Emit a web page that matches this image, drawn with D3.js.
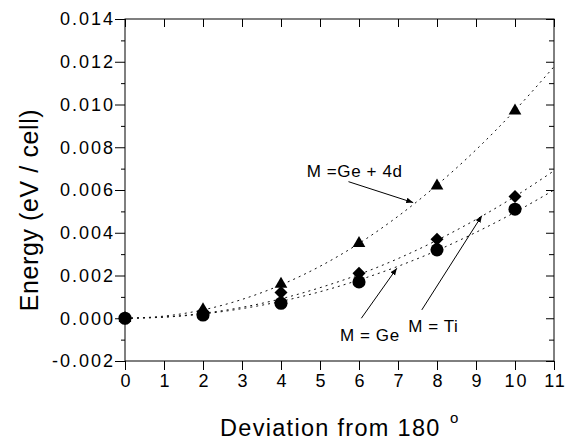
<!DOCTYPE html>
<html>
<head>
<meta charset="utf-8">
<script src="https://d3js.org/d3.v7.min.js"></script>
<style>
body { margin: 0; background: #fff; font-family: 'Liberation Sans', Arial, sans-serif; }
svg { display: block; }
svg text { font-family: 'Liberation Sans', Arial, sans-serif; }
</style>
</head>
<body>
<svg width="569" height="441"></svg>
<script>
// computed points (deviation in degrees, energy in eV/cell)
var angles = [0, 2, 4, 6, 8, 10];
var energyGe4d = [0, 0.0004, 0.0016, 0.0035, 0.0062, 0.0097];
var energyTi = [0, 0.0003, 0.0012, 0.0021, 0.0037, 0.0057];
var energyGe = [0, 0.00015, 0.0007, 0.0017, 0.0032, 0.0051];

// fitted curves at each degree
var fitAngles = [0, 1, 2, 3, 4, 5, 6, 7, 8, 9, 10, 11];
var fitGe4d = [0, 0.0001, 0.00039, 0.00088, 0.00156, 0.00243, 0.0035, 0.00477, 0.00623, 0.00788, 0.00973, 0.01177];
var fitTi = [0, 0.00006, 0.00023, 0.00051, 0.00091, 0.00143, 0.00205, 0.00279, 0.00365, 0.00462, 0.0057, 0.0069];
var fitGe = [0, 0.00005, 0.0002, 0.00045, 0.00079, 0.00124, 0.00179, 0.00243, 0.00317, 0.00402, 0.00496, 0.006];

var xTicks = [0, 1, 2, 3, 4, 5, 6, 7, 8, 9, 10, 11];
var yTicks = [-0.002, 0, 0.002, 0.004, 0.006, 0.008, 0.010, 0.012, 0.014];
var yMinor = [-0.001, 0.001, 0.003, 0.005, 0.007, 0.009, 0.011, 0.013];

// annotation text and arrows, in data units
var notes = [
  {label: "M =Ge + 4d", tx: 4.66, ty: 0.00662, x1: 5.73, y1: 0.00639, x2: 7.39, y2: 0.00541},
  {label: "M = Ge", tx: 5.51, ty: -0.00105, x1: 6.06, y1: 0.0, x2: 6.97, y2: 0.00234},
  {label: "M = Ti", tx: 7.26, ty: -0.00063, x1: 7.61, y1: 0.00039, x2: 9.15, y2: 0.0048}
];

var svg = d3.select("svg");

var x = d3.scaleLinear().domain([0, 11]).range([125, 554]);
var y = d3.scaleLinear().domain([-0.002, 0.014]).range([361, 19]);

svg.append("defs").append("marker")
  .attr("id", "head")
  .attr("viewBox", "0 0 10 10")
  .attr("refX", 10).attr("refY", 5)
  .attr("markerWidth", 7).attr("markerHeight", 7)
  .attr("markerUnits", "userSpaceOnUse")
  .attr("orient", "auto")
  .append("path").attr("d", "M0,1 L10,5 L0,9 Z").attr("fill", "#000");

// frame
svg.append("rect")
  .attr("x", x(0)).attr("y", y(0.014))
  .attr("width", x(11) - x(0)).attr("height", y(-0.002) - y(0.014))
  .attr("fill", "none").attr("stroke", "#000").attr("stroke-width", 1);

var fmt = function(d) { return d.toFixed(3); };

function styleAxis(g) {
  g.attr("font-family", null);
  g.select(".domain").remove();
  g.selectAll("line").attr("stroke", "#000");
  g.selectAll("text").attr("fill", "#000")
    .style("font-size", "18px").style("letter-spacing", "2px");
}

var gLeft = svg.append("g").attr("transform", "translate(" + x(0) + ",0)")
  .call(d3.axisLeft(y).tickValues(yTicks).tickFormat(fmt).tickSize(10).tickPadding(2))
  .call(styleAxis);
gLeft.selectAll("text").attr("dx", 2);

svg.append("g").attr("transform", "translate(" + x(0) + ",0)")
  .call(d3.axisLeft(y).tickValues(yMinor).tickFormat("").tickSize(4))
  .call(styleAxis);

svg.append("g").attr("transform", "translate(" + x(11) + ",0)")
  .call(d3.axisRight(y).tickValues(yTicks).tickFormat("").tickSize(-8))
  .call(styleAxis);
svg.append("g").attr("transform", "translate(" + x(11) + ",0)")
  .call(d3.axisRight(y).tickValues(yMinor).tickFormat("").tickSize(-5))
  .call(styleAxis);

var gBottom = svg.append("g").attr("transform", "translate(0," + y(-0.002) + ")")
  .call(d3.axisBottom(x).tickValues(xTicks).tickFormat(d3.format("d")).tickSize(9).tickPadding(4))
  .call(styleAxis);
gBottom.selectAll("text").attr("dx", 1);

svg.append("g").attr("transform", "translate(0," + y(0.014) + ")")
  .call(d3.axisTop(x).tickValues(xTicks).tickFormat("").tickSize(-8))
  .call(styleAxis);

// fitted curves
var series = [
  {fit: fitGe4d, pts: energyGe4d, shape: d3.symbolTriangle, size: 70, rot: 0},
  {fit: fitTi, pts: energyTi, shape: d3.symbolSquare, size: 85, rot: 45},
  {fit: fitGe, pts: energyGe, shape: d3.symbolCircle, size: 135, rot: 0}
];

var line = d3.line()
  .x(function(d, i) { return x(fitAngles[i]); })
  .y(function(d) { return y(d); })
  .curve(d3.curveMonotoneX);

series.forEach(function(s) {
  svg.append("path")
    .datum(s.fit)
    .attr("d", line)
    .attr("fill", "none")
    .attr("stroke", "#111")
    .attr("stroke-width", 1)
    .attr("stroke-dasharray", "2,4");
});

series.forEach(function(s) {
  svg.append("g").selectAll("path")
    .data(s.pts)
    .enter().append("path")
    .attr("d", d3.symbol().type(s.shape).size(s.size))
    .attr("transform", function(d, i) {
      return "translate(" + x(angles[i]) + "," + y(d) + ") rotate(" + s.rot + ")";
    })
    .attr("fill", "#000");
});

// annotations
notes.forEach(function(n) {
  svg.append("line")
    .attr("x1", x(n.x1)).attr("y1", y(n.y1))
    .attr("x2", x(n.x2)).attr("y2", y(n.y2))
    .attr("stroke", "#000").attr("stroke-width", 1)
    .attr("marker-end", "url(#head)");
  svg.append("text")
    .attr("x", x(n.tx)).attr("y", y(n.ty))
    .style("font-size", "17px")
    .style("letter-spacing", "0.6px")
    .text(n.label);
});

// axis titles
svg.append("text")
  .attr("transform", "translate(38,210) rotate(-90)")
  .attr("text-anchor", "middle")
  .style("font-size", "25px")
  .style("letter-spacing", "0.6px")
  .text("Energy (eV / cell)");

svg.append("text")
  .attr("x", 220).attr("y", 436)
  .style("font-size", "23.5px")
  .style("letter-spacing", "1.3px")
  .text("Deviation from 180");
svg.append("text")
  .attr("x", 450).attr("y", 423)
  .style("font-size", "15px")
  .text("o");
</script>
</body>
</html>
